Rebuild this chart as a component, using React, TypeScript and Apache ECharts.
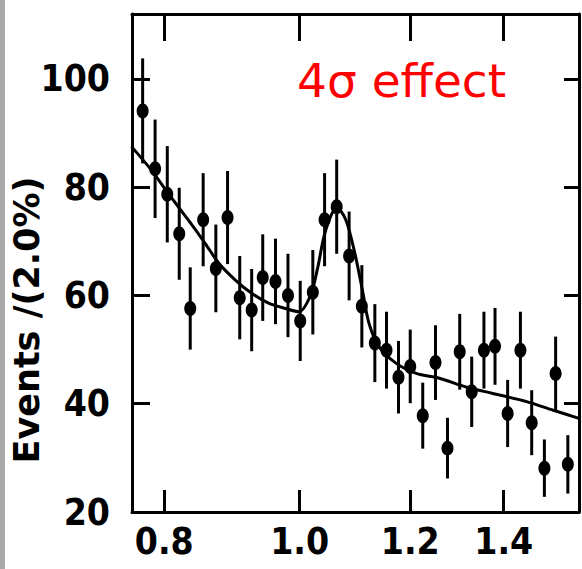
import React, { useEffect, useRef } from "react";
import * as echarts from "echarts";

// Measured bin centres (mass) and event counts per 2% bin
const massValues = [
  0.772, 0.788, 0.804, 0.82, 0.835, 0.853, 0.871, 0.888, 0.906, 0.924, 0.941, 0.961,
  0.981, 1.001, 1.022, 1.042, 1.063, 1.085, 1.108, 1.132, 1.154, 1.177, 1.2, 1.225,
  1.251, 1.276, 1.302, 1.328, 1.355, 1.38, 1.409, 1.439, 1.466, 1.497, 1.525, 1.556,
];
const eventCounts = [
  94.1, 83.4, 78.7, 71.4, 57.6, 74.0, 65.0, 74.4, 59.6, 57.3, 63.3, 62.6,
  60.0, 55.3, 60.6, 74.0, 76.4, 67.3, 58.0, 51.2, 49.9, 44.9, 46.9, 37.8,
  47.6, 31.8, 49.6, 42.2, 49.9, 50.6, 38.2, 49.9, 36.5, 28.1, 45.6, 28.8,
];
const errorValues = [
  9.7, 9.1, 8.9, 8.5, 7.6, 8.6, 8.1, 8.6, 7.7, 7.6, 8.0, 7.9,
  7.7, 7.4, 7.8, 8.6, 8.7, 8.2, 7.6, 7.2, 7.1, 6.7, 6.8, 6.1,
  6.9, 5.6, 7.0, 6.5, 7.1, 7.1, 6.2, 7.1, 6.0, 5.3, 6.8, 5.4,
];

// Fitted curve
const fitMass = [
  0.758, 0.783, 0.805, 0.832, 0.856, 0.875, 0.899, 0.924, 0.95, 0.977, 0.999, 1.018,
  1.03, 1.041, 1.055, 1.064, 1.079, 1.094, 1.109, 1.121, 1.14, 1.172, 1.212, 1.259,
  1.316, 1.375, 1.454, 1.519, 1.585,
];
const fitEvents = [
  87.5, 83.2, 78.9, 74.0, 69.6, 66.0, 62.9, 60.4, 58.6, 57.6, 57.0, 60.0,
  65.0, 70.9, 75.2, 76.1, 74.0, 68.4, 61.0, 54.9, 50.5, 47.5, 45.6, 44.7,
  43.1, 41.9, 40.4, 38.8, 37.3,
];

const xTickLabels = [0.8, 1.0, 1.2, 1.4];
const yTickLabels = [20, 40, 60, 80, 100];
const annotationText = "4σ effect";
const yAxisTitle = "Events /(2.0%)";

const labelFont = '"DejaVu Sans Condensed", "Liberation Sans Narrow", "Liberation Sans", "DejaVu Sans", sans-serif';

export default function App() {
  const ref = useRef<HTMLDivElement>(null);

  useEffect(() => {
    document.body.style.margin = "0";
    if (!ref.current) return;
    const chart = echarts.init(ref.current, null, { renderer: "svg" });

    const xTickPos = xTickLabels.map((v) => Math.log10(v));
    const fmtX = (v: number) => Math.pow(10, v).toFixed(1);

    const pointData = massValues.map((m, i) => [Math.log10(m), eventCounts[i], errorValues[i]]);
    const fitData = fitMass.map((m, i) => [Math.log10(m), fitEvents[i]]);

    const axisLine = { show: true, onZero: false, lineStyle: { color: "#000", width: 3 } };

    chart.setOption({
      animation: false,
      backgroundColor: "#fff",
      grid: { left: 132, right: 3, top: 14, bottom: 57, containLabel: false },
      xAxis: [
        {
          type: "value",
          position: "bottom",
          min: -0.12,
          max: 0.2,
          axisLine,
          splitLine: { show: false },
          axisTick: {
            show: true,
            inside: true,
            length: 22,
            customValues: xTickPos,
            lineStyle: { color: "#000", width: 3 },
          },
          axisLabel: {
            show: true,
            customValues: xTickPos,
            formatter: fmtX,
            margin: 11,
            color: "#000",
            fontSize: 37,
            fontWeight: "bold",
            fontFamily: labelFont,
          },
        },
        {
          type: "value",
          position: "top",
          min: -0.12,
          max: 0.2,
          axisLine,
          splitLine: { show: false },
          axisTick: {
            show: true,
            inside: true,
            length: 27,
            customValues: xTickPos,
            lineStyle: { color: "#000", width: 3 },
          },
          axisLabel: { show: false },
        },
      ],
      yAxis: [
        {
          type: "value",
          position: "left",
          min: 20,
          max: 112,
          axisLine,
          splitLine: { show: false },
          axisTick: {
            show: true,
            inside: true,
            length: 18,
            customValues: yTickLabels,
            lineStyle: { color: "#000", width: 3 },
          },
          axisLabel: {
            show: true,
            customValues: yTickLabels,
            margin: 22,
            color: "#000",
            fontSize: 37,
            fontWeight: "bold",
            fontFamily: labelFont,
          },
        },
        {
          type: "value",
          position: "right",
          min: 20,
          max: 112,
          axisLine,
          splitLine: { show: false },
          axisTick: {
            show: true,
            inside: true,
            length: 15,
            customValues: yTickLabels,
            lineStyle: { color: "#000", width: 3 },
          },
          axisLabel: { show: false },
        },
      ],
      series: [
        {
          type: "custom",
          name: "errors",
          xAxisIndex: 0,
          yAxisIndex: 0,
          data: pointData,
          encode: { x: 0, y: 1 },
          z: 2,
          renderItem: (params: any, api: any) => {
            const x = api.value(0);
            const y = api.value(1);
            const e = api.value(2);
            const top = api.coord([x, y + e]);
            const bot = api.coord([x, y - e]);
            return {
              type: "line",
              shape: { x1: top[0], y1: top[1], x2: bot[0], y2: bot[1] },
              style: { stroke: "#000", lineWidth: 3 },
            };
          },
        },
        {
          type: "line",
          name: "fit",
          xAxisIndex: 0,
          yAxisIndex: 0,
          data: fitData,
          smooth: 0.3,
          showSymbol: false,
          symbol: "none",
          lineStyle: { color: "#000", width: 3 },
          z: 3,
        },
        {
          type: "scatter",
          name: "data",
          xAxisIndex: 0,
          yAxisIndex: 0,
          data: pointData.map((d) => [d[0], d[1]]),
          symbol: "circle",
          symbolSize: [12, 15],
          itemStyle: { color: "#000", opacity: 1 },
          z: 4,
        },
      ],
      graphic: [
        {
          type: "rect",
          left: 0,
          top: 0,
          shape: { x: 0, y: 0, width: 5, height: 569 },
          style: { fill: "#a9a9a9" },
          silent: true,
        },
        {
          type: "text",
          x: 297,
          y: 80,
          style: {
            text: annotationText,
            fill: "#ff0000",
            fontSize: 47,
            fontFamily: '"DejaVu Sans", Verdana, sans-serif',
            align: "left",
            verticalAlign: "middle",
          },
          z: 10,
        },
        {
          type: "text",
          x: 27,
          y: 320,
          rotation: Math.PI / 2,
          style: {
            text: yAxisTitle,
            fill: "#000",
            fontSize: 35,
            fontWeight: "bold",
            fontFamily: '"DejaVu Sans", sans-serif',
            align: "center",
            verticalAlign: "middle",
          },
          z: 10,
        },
      ],
    });

    return () => chart.dispose();
  }, []);

  return <div ref={ref} style={{ width: 582, height: 569 }} />;
}
